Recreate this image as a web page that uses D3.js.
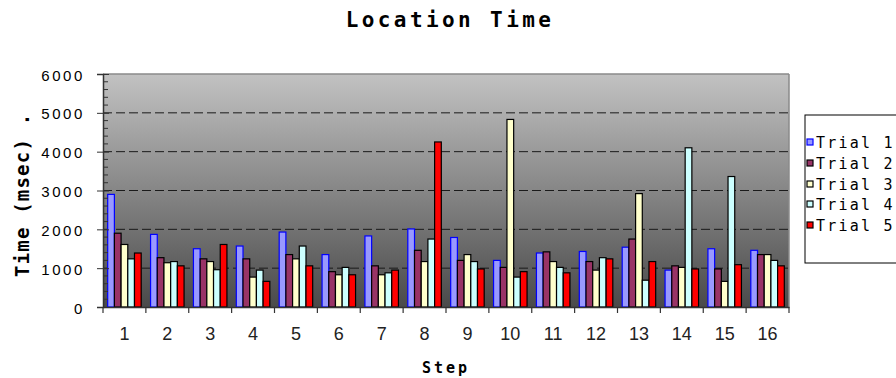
<!DOCTYPE html>
<html><head><meta charset="utf-8">
<script src="https://cdn.jsdelivr.net/npm/d3@7/dist/d3.min.js"></script>
<style>html,body{margin:0;padding:0;background:#fff;overflow:hidden}</style>
</head><body>
<svg id="chart" width="896" height="378"></svg>
<script>
const steps = ["1","2","3","4","5","6","7","8","9","10","11","12","13","14","15","16"];
const seriesNames = ["Trial 1","Trial 2","Trial 3","Trial 4","Trial 5"];
const trial1 = [2900,1870,1500,1570,1930,1350,1830,2010,1790,1200,1390,1430,1540,950,1500,1460];
const trial2 = [1900,1270,1240,1240,1350,910,1060,1460,1200,1020,1420,1170,1750,1060,980,1350];
const trial3 = [1610,1140,1170,770,1240,830,830,1170,1350,4830,1170,950,2920,1020,660,1350];
const trial4 = [1240,1170,960,950,1570,1020,880,1750,1170,770,1020,1270,690,4100,3360,1200];
const trial5 = [1390,1060,1610,660,1060,830,950,4250,980,910,880,1240,1170,980,1090,1060];
const yTicks = [0,1000,2000,3000,4000,5000,6000];
const fills = ["#9999ff","#993366","#ffffcc","#ccffff","#ff0000"];
const strokes = ["#0000ff","#000000","#000000","#000000","#000000"];

const series = [trial1, trial2, trial3, trial4, trial5];
const svg = d3.select("#chart");
const L = 103, R = 789, T = 74, B = 307;

const x0 = d3.scaleBand().domain(steps).range([L, R]).padding(0);
const x1 = d3.scaleBand().domain(seriesNames).range([0, x0.bandwidth()]).paddingInner(0).paddingOuter(0.7);
const y = d3.scaleLinear().domain([0, 6000]).range([B, T]);

// background gradient
const defs = svg.append("defs");
const grad = defs.append("linearGradient").attr("id","bg").attr("x1",0).attr("y1",0).attr("x2",0).attr("y2",1);
grad.append("stop").attr("offset","0%").attr("stop-color","#c2c2c2");
grad.append("stop").attr("offset","100%").attr("stop-color","#4a4a4a");
svg.append("rect").attr("x",L).attr("y",T).attr("width",R-L).attr("height",B-T).attr("fill","url(#bg)");

// gridlines
svg.append("g").selectAll("line").data(yTicks.filter(v => v>0 && v<6000)).join("line")
  .attr("x1",L).attr("x2",R).attr("y1",d=>y(d)).attr("y2",d=>y(d))
  .attr("stroke","#1a1a1a").attr("stroke-width",1).attr("stroke-dasharray","9,4");
// top & right border
svg.append("line").attr("x1",L).attr("x2",R).attr("y1",y(6000)).attr("y2",y(6000)).attr("stroke","#8a8a8a").attr("stroke-width",1.5);
svg.append("line").attr("x1",R).attr("x2",R).attr("y1",T).attr("y2",B).attr("stroke","#8a8a8a").attr("stroke-width",1.5);

// bars
const groups = svg.append("g").selectAll("g").data(steps).join("g")
  .attr("transform", d => `translate(${x0(d)},0)`);
groups.selectAll("rect").data((d,i) => seriesNames.map((s,j) => ({s, j, v: series[j][i]}))).join("rect")
  .attr("x", d => x1(d.s)).attr("width", x1.bandwidth())
  .attr("y", d => y(d.v)).attr("height", d => y(0) - y(d.v))
  .attr("fill", d => fills[d.j]).attr("stroke", d => strokes[d.j]).attr("stroke-width", 1.2);

// y axis
const yAxis = d3.axisLeft(y).tickValues(yTicks).tickSize(6).tickPadding(12).tickFormat(d3.format("d"));
const ya = svg.append("g").attr("transform",`translate(${L},0)`).call(yAxis);
ya.select(".domain").attr("stroke","#333").attr("stroke-width",1.5);
ya.selectAll(".tick line").attr("stroke","#333").attr("x2",-6).attr("x1",6);
ya.selectAll(".tick text").attr("font-family","Liberation Sans, Arial, sans-serif").attr("font-size",15)
  .attr("fill","#000").attr("letter-spacing","2.6px").attr("dy","0.4em");
// minor ticks
const minor = d3.range(0, 6001, 200).filter(v => v % 1000 !== 0);
svg.append("g").selectAll("line").data(minor).join("line")
  .attr("x1",L).attr("x2",L+5).attr("y1",d=>y(d)).attr("y2",d=>y(d)).attr("stroke","#333");

// x axis
const xAxis = d3.axisBottom(x0).tickSize(0).tickPadding(20);
const xa = svg.append("g").attr("transform",`translate(0,${B})`).call(xAxis);
xa.select(".domain").attr("stroke","#333").attr("stroke-width",1.5);
xa.selectAll(".tick text").attr("font-family","Liberation Sans, Arial, sans-serif").attr("font-size",18).attr("fill","#222");
// category boundary ticks
const bounds = steps.map(s => x0(s)).concat([R]);
svg.append("g").selectAll("line").data(bounds).join("line")
  .attr("x1",d=>d).attr("x2",d=>d).attr("y1",B).attr("y2",B+6).attr("stroke","#333").attr("stroke-width",1.2);

// title
svg.append("text").attr("x",450).attr("y",27).attr("text-anchor","middle")
  .attr("font-family","DejaVu Sans Mono, monospace").attr("font-weight","bold").attr("font-size",21)
  .attr("letter-spacing","3.4px").text("Location Time");
// x label
svg.append("text").attr("x",446).attr("y",373).attr("text-anchor","middle")
  .attr("font-family","DejaVu Sans Mono, monospace").attr("font-weight","bold").attr("font-size",15)
  .attr("letter-spacing","3px").text("Step");
// y label
svg.append("text").attr("transform","translate(29,277) rotate(-90)").attr("text-anchor","start")
  .attr("font-family","DejaVu Sans Mono, monospace").attr("font-weight","bold").attr("font-size",19)
  .attr("letter-spacing","1.2px").text("Time (msec) .");

// legend
const lg = svg.append("g");
lg.append("rect").attr("x",805).attr("y",115).attr("width",100).attr("height",148)
  .attr("fill","#fff").attr("stroke","#000").attr("stroke-width",1);
const rowY = [142,163,184,204,225];
const items = lg.selectAll("g.item").data(seriesNames).join("g").attr("class","item")
  .attr("transform",(d,i)=>`translate(0,${rowY[i]})`);
items.append("rect").attr("x",807).attr("y",-3).attr("width",6).attr("height",6)
  .attr("fill",(d,i)=>fills[i]).attr("stroke",(d,i)=>strokes[i]).attr("stroke-width",1.2);
items.append("text").attr("x",816).attr("y",5.5)
  .attr("font-family","DejaVu Sans Mono, monospace").attr("font-size",15).attr("letter-spacing","2.2px")
  .text(d=>d);
</script>
</body></html>
